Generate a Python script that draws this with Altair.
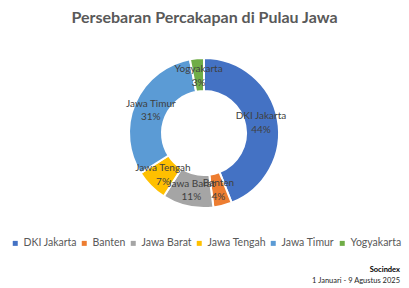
import altair as alt
import pandas as pd

regions = ["DKI Jakarta", "Banten", "Jawa Barat", "Jawa Tengah", "Jawa Timur", "Yogyakarta"]
shares = [44, 4, 11, 7, 31, 3]
colors = ["#4472C4", "#ED7D31", "#A5A5A5", "#FFC000", "#5B9BD5", "#70AD47"]
title_text = "Persebaran Percakapan di Pulau Jawa"
source_name = "Socindex"
source_period = "1 Januari - 9 Agustus 2025"

df = pd.DataFrame({
    "region": regions,
    "share": shares,
    "idx": list(range(len(regions))),
})
df["label"] = [f"{r}\n{s}%" for r, s in zip(regions, shares)]

FONT = "Lato"
CX, CY = 204, 93

base = alt.Chart(df).encode(
    theta=alt.Theta("share:Q", stack=True),
    order=alt.Order("idx:Q"),
    x=alt.value(CX),
    y=alt.value(CY),
)

arcs = base.mark_arc(innerRadius=42, outerRadius=75, stroke="white", strokeWidth=2).encode(
    color=alt.Color(
        "region:N",
        scale=alt.Scale(domain=regions, range=colors),
        sort=regions,
        legend=alt.Legend(
            title=None,
            orient="none",
            direction="horizontal",
            legendX=10,
            legendY=198,
            symbolType="square",
            symbolSize=25,
            symbolStrokeWidth=0,
            labelFontSize=10.5,
            labelFont=FONT,
            labelColor="#595959",
            columnPadding=2,
            labelOffset=3,
        ),
    )
)

labels = base.mark_text(
    radius=58, lineBreak="\n", fontSize=10, font=FONT, color="#404040",
    align="center", baseline="middle", lineHeight=13.5, dy=-6,
).encode(text="label:N")

src = pd.DataFrame({"t": [source_name]})
per = pd.DataFrame({"t": [source_period]})
foot1 = alt.Chart(src).mark_text(
    align="right", fontSize=7.5, font=FONT, fontWeight="bold", color="#000000"
).encode(text="t:N", x=alt.value(400), y=alt.value(230))
foot2 = alt.Chart(per).mark_text(
    align="right", fontSize=7.5, font=FONT, color="#262626"
).encode(text="t:N", x=alt.value(400), y=alt.value(241))

chart = alt.layer(arcs, labels, foot1, foot2).properties(
    width=409,
    height=248,
    padding={"left": 0, "top": 40, "right": 0, "bottom": 0},
    autosize=alt.AutoSizeParams(type="none"),
    title=alt.TitleParams(
        title_text, font=FONT, fontSize=16, fontWeight="bold", color="#595959",
        anchor="middle", offset=14,
    ),
).configure_view(stroke=None)

chart.save("out.html", embed_options={"renderer": "svg", "actions": False})
